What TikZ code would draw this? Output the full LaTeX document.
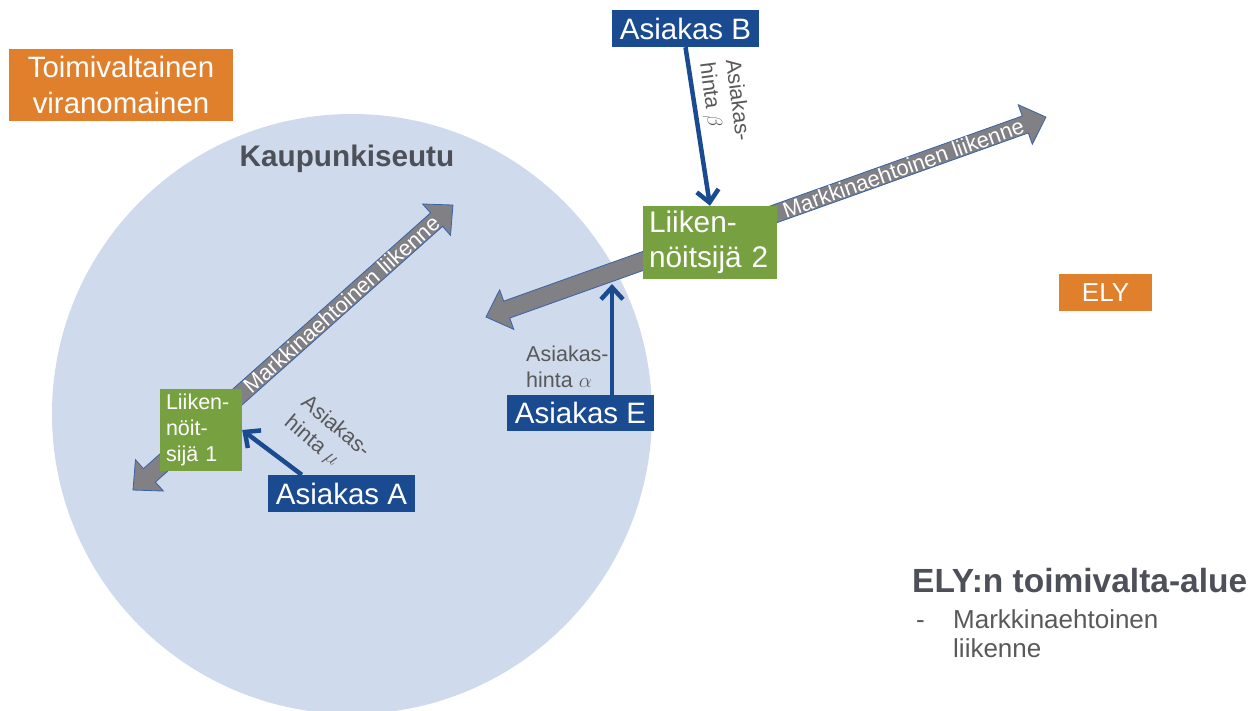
\documentclass[tikz,border=0pt]{standalone}
\usepackage{fontspec}
\setmainfont{Liberation Sans}
\usetikzlibrary{arrows.meta,calc}
\definecolor{orangeC}{HTML}{E0802C}
\definecolor{greenC}{HTML}{77A040}
\definecolor{blueC}{HTML}{1A4A90}
\definecolor{circleC}{HTML}{CFDAEC}
\definecolor{grayArrow}{HTML}{808085}
\definecolor{arrowEdge}{HTML}{3A62A8}
\definecolor{labelGray}{HTML}{595959}
\definecolor{titleGray}{HTML}{4D5058}
\newcommand\fsz[2]{\fontsize{#1}{#2}\selectfont}
\begin{document}
\begin{tikzpicture}[x=1pt,y=-1pt,
  box/.style={rectangle, inner sep=0pt, text=white, anchor=center},
  orangebox/.style={box, fill=orangeC},
  greenbox/.style={box, fill=greenC},
  bluebox/.style={box, fill=blueC},
  bigarrow/.style={fill=grayArrow, draw=arrowEdge, line width=0.8pt, line join=miter},
  arrowtext/.style={text=white, inner sep=0pt, font=\fsz{22}{26}},
  price/.style={draw=blueC, line width=4.5pt, -{Straight Barb[length=12pt,width=22pt]}},
  pricelabel/.style={text=labelGray, inner sep=0pt, align=left, font=\fsz{21.5}{26}},
  title/.style={text=titleGray, inner sep=0pt, font=\bfseries\fsz{29.7}{34}},
]
\useasboundingbox (0,0) rectangle (1255,710);
\clip (0,0) rectangle (1255,710);
\fill[white] (0,0) rectangle (1255,710);

% region circle
\fill[circleC] (352,414) circle[radius=300];
\node[title, anchor=base] (kaup) at (347,166) {Kaupunkiseutu};

% big double arrows
\coordinate (m1a) at (133,490);
\coordinate (m1b) at (453,205);
\coordinate (m2a) at (486,317);
\coordinate (m2b) at (1046,117);
\begin{scope}[shift={(m1a)}, rotate=41.69]
  \path[bigarrow] (0,0) -- (22,21) -- (22,9) -- (406.5,9) -- (406.5,21) -- (428.5,0)
    -- (406.5,-21) -- (406.5,-9) -- (22,-9) -- (22,-21) -- cycle;
  \node[arrowtext, transform shape] (t1) at (279,0) {Markkinaehtoinen liikenne};
\end{scope}
\begin{scope}[shift={(m2a)}, rotate=19.65]
  \path[bigarrow] (0,0) -- (22,21) -- (22,9) -- (572.6,9) -- (572.6,21) -- (594.6,0)
    -- (572.6,-21) -- (572.6,-9) -- (22,-9) -- (22,-21) -- cycle;
  \node[arrowtext, transform shape] (t2) at (443,0) {Markkinaehtoinen liikenne};
\end{scope}

% boxes
\node[orangebox, minimum width=224pt, minimum height=72pt, align=center,
      font=\fsz{29.4}{36}] (tv) at (121,85) {Toimivaltainen\\viranomainen};
\node[orangebox, minimum width=93pt, minimum height=37pt, font=\fsz{26}{30}] (ely) at (1105.5,292.5) {ELY};
\node[greenbox, minimum height=73pt, text width=122pt, inner xsep=6pt, align=left,
      font=\fsz{29.8}{35}] (L2) at (710,242.5) {Liiken-\\nöitsijä 2};
\node[greenbox, minimum height=82pt, text width=70pt, inner xsep=6pt, align=left,
      font=\fsz{21.5}{26}] (L1) at (201,430) {Liiken-\\nöit-\\sijä 1};
\node[bluebox, minimum width=147pt, minimum height=37pt, font=\fsz{29.5}{32}] (B) at (685.5,28.5) {Asiakas B};
\node[bluebox, minimum width=147pt, minimum height=37pt, font=\fsz{29.5}{32}] (A) at (341.5,493.5) {Asiakas A};
\node[bluebox, minimum width=147pt, minimum height=36pt, font=\fsz{29.5}{32}] (E) at (580.5,413) {Asiakas E};

% customer price arrows
\coordinate (eTip) at (612,284);
\draw[price] (B.south) -- (L2.north);
\draw[price] ([xshift=34pt]A.north west) -- (L1.east);
\draw[price] (eTip |- E.north) -- (eTip);

% price labels
\node[pricelabel, rotate=-82.6] (pb) at (724,102) {Asiakas-\\hinta $\beta$};
\node[pricelabel, rotate=-40] (pm) at (327,437) {Asiakas-\\hinta $\mu$};
\node[pricelabel, anchor=north west] (pa) at (526,346) {Asiakas-\\hinta $\alpha$};

% legend
\node[title, anchor=base west, font=\bfseries\fsz{33.5}{38}] (leg) at (912,592) {ELY:n toimivalta-alue};
\node[text=labelGray, inner sep=0pt, anchor=base west, font=\fsz{26}{30}] (dash) at (916,628) {-};
\node[text=labelGray, inner sep=0pt, anchor=base west, font=\fsz{26}{30}] (leg1) at (953,628) {Markkinaehtoinen};
\node[text=labelGray, inner sep=0pt, anchor=base west, font=\fsz{26}{30}] (leg2) at (953,657) {liikenne};
\end{tikzpicture}
\end{document}
